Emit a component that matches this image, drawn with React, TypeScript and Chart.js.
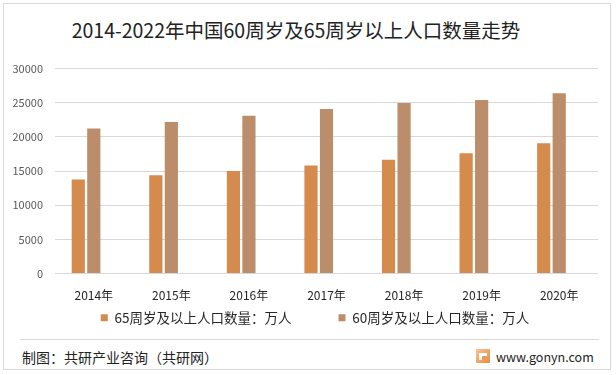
import React, { useEffect, useRef } from "react";
import { Chart, registerables } from "chart.js";
Chart.register(...registerables);

const years = ["2014年", "2015年", "2016年", "2017年", "2018年", "2019年", "2020年"];
const pop65 = [13755, 14386, 15003, 15831, 16658, 17603, 19064];
const pop60 = [21242, 22200, 23086, 24090, 24949, 25388, 26402];
const label65 = "65周岁及以上人口数量：万人";
const label60 = "60周岁及以上人口数量：万人";
const yTicks = [0, 5000, 10000, 15000, 20000, 25000, 30000];
const titleText = "2014-2022年中国60周岁及65周岁以上人口数量走势";
const sourceText = "制图：共研产业咨询（共研网）";
const siteText = "www.gonyn.com";

const FONT = "'Noto Sans CJK SC', 'Noto Sans', sans-serif";
const LEGEND_TOP = 214; // canvas px
const LEGEND_SHIFT = 16;

const legendMover = {
  id: "legendMover",
  afterLayout(chart: any) {
    const lg = chart.legend;
    if (lg) {
      lg.top = LEGEND_TOP;
      lg.bottom = LEGEND_TOP + 70;
      lg.left += LEGEND_SHIFT;
      lg.right += LEGEND_SHIFT;
    }
  },
};

export default function App() {
  const ref = useRef<HTMLCanvasElement | null>(null);
  useEffect(() => {
    document.body.style.margin = "0";
    const ctx = ref.current!;
    const chart = new Chart(ctx, {
      type: "bar",
      data: {
        labels: years,
        datasets: [
          { label: label65, data: pop65, backgroundColor: "#D48B4D", categoryPercentage: 0.6, barPercentage: 0.85 },
          { label: label60, data: pop60, backgroundColor: "#BB8D6B", categoryPercentage: 0.6, barPercentage: 0.85 },
          { label: "", data: years.map(() => null), backgroundColor: "transparent", categoryPercentage: 0.6, barPercentage: 0.85 },
        ],
      },
      plugins: [legendMover],
      options: {
        animation: false,
        responsive: false,
        maintainAspectRatio: false,
        layout: { padding: { left: 0, right: 18, top: 18, bottom: 2 } },
        plugins: {
          tooltip: { enabled: false },
          legend: {
            position: "bottom",
            maxHeight: 20,
            labels: {
              filter: (item: any) => item.text !== "",
              boxWidth: 7,
              boxHeight: 7,
              padding: 47,
              color: "#262626",
              font: { family: FONT, size: 13.5 },
            },
          },
        },
        scales: {
          x: {
            grid: { display: false, drawTicks: false },
            border: { display: false },
            ticks: { color: "#262626", font: { family: FONT, size: 12 }, padding: 15, maxRotation: 0 },
          },
          y: {
            min: 0,
            max: 30000,
            afterFit: (s: any) => { s.width = 55; },
            afterBuildTicks: (s: any) => { s.ticks = yTicks.map((v) => ({ value: v })); },
            grid: { color: "#d9d9d9", drawTicks: false, lineWidth: 1 },
            border: { display: false },
            ticks: { color: "#595959", font: { family: FONT, size: 11 }, padding: 12, callback: (v: any) => String(v) },
          },
        },
      },
    });
    return () => chart.destroy();
  }, []);

  return (
    <div style={{ position: "absolute", left: 0, top: 0, width: 616, height: 375, background: "#fff", fontFamily: FONT }}>
      <div style={{ position: "absolute", left: 3, top: 3, width: 606, height: 365, border: "1px solid #d9d9d9" }} />
      <div style={{ position: "absolute", left: 0, width: 592, top: 17, textAlign: "center", fontSize: 19.5, color: "#222", lineHeight: "26px" }}>
        {titleText}
      </div>
      <canvas ref={ref} width={616} height={290} style={{ position: "absolute", left: 0, top: 50, width: 616, height: 290 }} />
      <div style={{ position: "absolute", left: 20, top: 339, width: 579, height: 1, background: "#d9d9d9" }} />
      <div style={{ position: "absolute", left: 22, top: 347, fontSize: 14, color: "#222", lineHeight: "20px" }}>{sourceText}</div>
      <div style={{ position: "absolute", left: 476, top: 349, width: 14, height: 14, background: "linear-gradient(135deg,#f6c49a,#ec8a3c)", borderRadius: 1 }}>
        <div style={{ position: "absolute", left: 3, top: 4, width: 8, height: 7, background: "#fff" }} />
        <div style={{ position: "absolute", left: 6, top: 7, width: 5, height: 4, background: "#ee9a55" }} />
      </div>
      <div style={{ position: "absolute", left: 496, top: 347, fontSize: 12.5, color: "#222", lineHeight: "20px" }}>{siteText}</div>
    </div>
  );
}
